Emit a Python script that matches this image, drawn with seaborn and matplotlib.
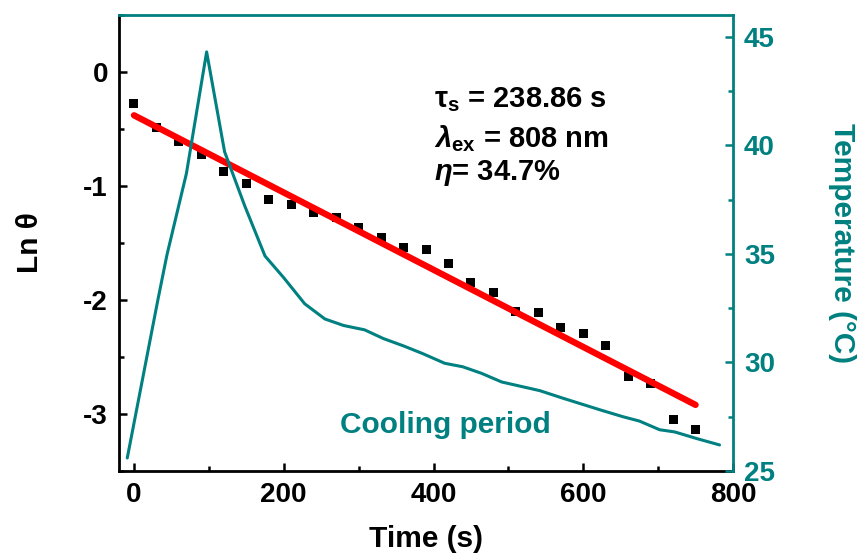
import numpy as np
import pandas as pd
import matplotlib
matplotlib.use('Agg')
import matplotlib.pyplot as plt
from matplotlib.ticker import MultipleLocator
import seaborn as sns

sns.set_style("ticks")
plt.rcParams['font.family'] = ['Liberation Sans', 'DejaVu Sans']
plt.rcParams['font.weight'] = 'bold'
plt.rcParams['mathtext.fontset'] = 'custom'
plt.rcParams['mathtext.rm'] = 'Liberation Sans:bold'
plt.rcParams['mathtext.it'] = 'Liberation Sans:italic:bold'
plt.rcParams['mathtext.bf'] = 'Liberation Sans:bold'
plt.rcParams['axes.unicode_minus'] = False
plt.rcParams['text.color'] = 'black'
plt.rcParams['axes.labelcolor'] = 'black'
plt.rcParams['xtick.color'] = 'black'
plt.rcParams['ytick.color'] = 'black'

teal = '#008080'

# 冷却阶段 ln(theta) 数据点
time_s = [0, 30, 60, 90, 120, 150, 180, 210, 240, 270, 300, 330, 360,
          390, 420, 450, 480, 510, 540, 570, 600, 630, 660, 690, 720, 750]
ln_theta = [-0.28, -0.49, -0.61, -0.72, -0.87, -0.98, -1.12, -1.16, -1.23,
            -1.28, -1.36, -1.45, -1.54, -1.56, -1.68, -1.85, -1.93, -2.10,
            -2.11, -2.24, -2.29, -2.40, -2.67, -2.73, -3.05, -3.14]

# 线性拟合
fit_time = [0, 750]
fit_ln = [-0.38, -2.92]

# 温度曲线
temp_time = [-9, 32, 44, 70, 97, 121, 148, 175, 200, 228, 255, 280, 308,
             333, 360, 386, 415, 439, 464, 491, 542, 573, 624, 653, 675,
             702, 722, 751, 782]
temp_c = [25.6, 32.9, 34.95, 38.7, 44.3, 39.7, 37.2, 34.9, 33.9, 32.7, 32.0,
          31.7, 31.5, 31.1, 30.76, 30.4, 29.96, 29.8, 29.5, 29.1, 28.7, 28.35,
          27.8, 27.5, 27.3, 26.9, 26.8, 26.5, 26.2]

pts = pd.DataFrame({'time': time_s, 'ln': ln_theta})
fit = pd.DataFrame({'time': fit_time, 'ln': fit_ln})
temp = pd.DataFrame({'time': temp_time, 'T': temp_c})

fig = plt.figure(figsize=(8.65, 5.57), dpi=100)
ax = fig.add_axes([0.1376, 0.1544, 0.7098, 0.8187])

sns.scatterplot(data=pts, x='time', y='ln', marker='s', s=42, color='black',
                edgecolor='none', legend=False, ax=ax, zorder=3)
sns.lineplot(data=fit, x='time', y='ln', color='red', linewidth=4.6,
             ax=ax, zorder=4)

ax.set_xlim(-20, 800)
ax.set_ylim(-3.5, 0.5)
ax.xaxis.set_major_locator(MultipleLocator(200))
ax.xaxis.set_minor_locator(MultipleLocator(100))
ax.yaxis.set_major_locator(MultipleLocator(1))
ax.yaxis.set_minor_locator(MultipleLocator(0.5))
ax.tick_params(which='both', direction='in', width=1.8, labelsize=20,
               top=False, right=False)
ax.tick_params(which='major', length=6, pad=8)
ax.tick_params(which='minor', length=3.5)
ax.set_xlabel('Time (s)', fontsize=21.5, fontweight='bold', labelpad=12)
ax.set_ylabel('Ln θ', fontsize=21.5, fontweight='bold', labelpad=28)
for s in ['left', 'bottom']:
    ax.spines[s].set_linewidth(2)
    ax.spines[s].set_color('black')
for s in ['top', 'right']:
    ax.spines[s].set_visible(False)

ax.text(400, -0.24, r'$\mathrm{\tau}_{\rm s}$ = 238.86 s', fontsize=21,
        fontweight='bold', va='center', ha='left')
ax.text(400, -0.58, r'$\lambda_{\rm ex}$ = 808 nm', fontsize=21,
        fontweight='bold', va='center', ha='left')
ax.text(400, -0.89, r'$\eta$= 34.7%', fontsize=21,
        fontweight='bold', va='center', ha='left')
ax.text(275, -3.10, 'Cooling period', fontsize=21.5, fontweight='bold',
        color=teal, va='center', ha='left')

ax2 = ax.twinx()
sns.lineplot(data=temp, x='time', y='T', color=teal, linewidth=2.2,
             sort=False, ax=ax2)
ax2.set_ylim(25, 46)
ax2.yaxis.set_major_locator(MultipleLocator(5))
ax2.yaxis.set_minor_locator(MultipleLocator(2.5))
ax2.tick_params(which='both', direction='in', width=1.8, labelsize=20,
                colors=teal)
ax2.tick_params(which='major', length=6, pad=8)
ax2.tick_params(which='minor', length=3.5)
ax2.set_ylabel('Temperature (°C)', fontsize=21.5, fontweight='bold',
               color=teal, rotation=270, labelpad=58)
for s in ['top', 'right']:
    ax2.spines[s].set_color(teal)
    ax2.spines[s].set_linewidth(2)
for s in ['left', 'bottom']:
    ax2.spines[s].set_visible(False)

fig.savefig('out.png', dpi=100)
